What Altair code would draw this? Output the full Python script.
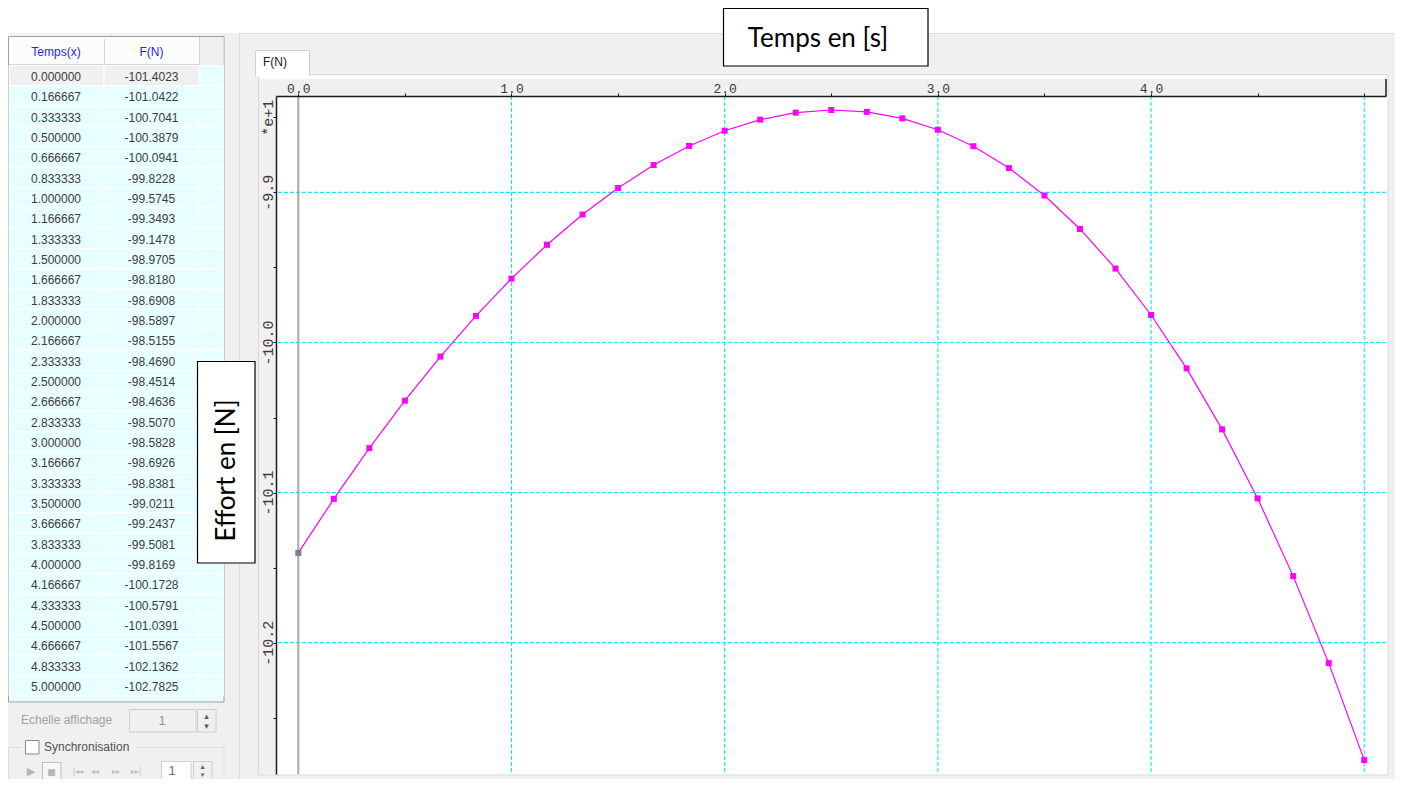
import altair as alt
import pandas as pd

# ---------------- data ----------------
temps = [0.000000, 0.166667, 0.333333, 0.500000, 0.666667, 0.833333, 1.000000,
         1.166667, 1.333333, 1.500000, 1.666667, 1.833333, 2.000000, 2.166667,
         2.333333, 2.500000, 2.666667, 2.833333, 3.000000, 3.166667, 3.333333,
         3.500000, 3.666667, 3.833333, 4.000000, 4.166667, 4.333333, 4.500000,
         4.666667, 4.833333, 5.000000]
force = [-101.4023, -101.0422, -100.7041, -100.3879, -100.0941, -99.8228, -99.5745,
         -99.3493, -99.1478, -98.9705, -98.8180, -98.6908, -98.5897, -98.5155,
         -98.4690, -98.4514, -98.4636, -98.5070, -98.5828, -98.6926, -98.8381,
         -99.0211, -99.2437, -99.5081, -99.8169, -100.1728, -100.5791, -101.0391,
         -101.5567, -102.1362, -102.7825]
selected_row = 0
x_tick_values = [0.0, 0.5, 1.0, 1.5, 2.0, 2.5, 3.0, 3.5, 4.0, 4.5, 5.0]
y_tick_values = [-98.5, -99.0, -99.5, -100.0, -100.5, -101.0, -101.5, -102.0, -102.5]
x_grid_values = [1.0, 2.0, 3.0, 4.0, 5.0]
y_grid_values = [-99.0, -100.0, -101.0, -102.0]
x_domain = [-0.1046, 5.102]
y_domain = [-102.875, -98.358]
table_headers = ["Temps(x)", "F(N)"]
x_title = "Temps en [s]"
y_title = "Effort en [N]"
tab_label = "F(N)"

# ---------------- layout ----------------
OX, OY = 276, 96          # page position of the plot origin
W, H = 1110, 678
GRAY = "#F0F0F0"
CYAN = "#10E6F4"
MAGENTA = "#FF00FF"


def px(x):
    return x - OX


def py(y):
    return y - OY


def rects(items, **kw):
    d = pd.DataFrame([{"x1": px(a), "y1": py(b), "x2": px(c), "y2": py(e), "fill": f, "stroke": s}
                      for (a, b, c, e, f, s) in items])
    return alt.Chart(d).mark_rect(**kw).encode(
        x=alt.X("x1:Q", scale=None, axis=None), x2="x2:Q",
        y=alt.Y("y1:Q", scale=None, axis=None), y2="y2:Q",
        fill=alt.Fill("fill:N", scale=None, legend=None),
        stroke=alt.Stroke("stroke:N", scale=None, legend=None))


def texts(items, align="left", font="Liberation Sans", angle=0, baseline="middle"):
    d = pd.DataFrame([{"x": px(a), "y": py(b), "text": t, "size": s, "color": c}
                      for (a, b, t, s, c) in items])
    kw = dict(align=align, baseline=baseline, font=font)
    if angle:
        kw["angle"] = angle
    return alt.Chart(d).mark_text(**kw).encode(
        x=alt.X("x:Q", scale=None, axis=None), y=alt.Y("y:Q", scale=None, axis=None),
        text="text:N", size=alt.Size("size:Q", scale=None, legend=None),
        color=alt.Color("color:N", scale=None, legend=None))


T = "transparent"

# background chrome
back = rects([
    (8, 33, 1395, 74, GRAY, T),
    (8, 74, 258, 779, GRAY, T),
    (1388, 74, 1395, 779, GRAY, T),
    (258, 775, 1388, 779, GRAY, T),
    (239.5, 33.5, 1399, 784, T, "#DCDCDC"),
    (258.5, 74.5, 1388, 775, T, "#D8D8D8"),
    (255.5, 50.5, 309.5, 76, "#FFFFFF", "#D0D0D0"),
    (256, 73, 309, 77, "#FFFFFF", T),
    (259, 79, 1386, 96, GRAY, T),
    (259, 96, 276, 774, GRAY, T),
    (1385, 79, 1387, 96, "#505050", T),
    # table frame and header
    (8.5, 36.5, 224, 702, "#E8FFFF", "#A0A0A0"),
    (9, 37, 199, 65, "#FCFCFC", T),
    (199, 37, 223.5, 65, GRAY, T),
    (104, 39, 105, 64, "#D5D5D5", T),
    (199, 37, 200, 65, "#D5D5D5", T),
    (9, 64, 199, 65, "#D5D5D5", T),
    # lower controls
    (8.5, 747.5, 224, 790, T, "#DCDCDC"),
    (22, 740, 137, 756, GRAY, T),
    (129.5, 709.5, 196, 732, GRAY, "#CFCFCF"),
    (197.5, 709.5, 216, 732, GRAY, "#CFCFCF"),
    (25.5, 740.5, 39, 754, "#FFFFFF", "#8A8A8A"),
    (42.5, 762.5, 61, 783, "#F7F7F7", "#BDBDBD"),
    (161.5, 761.5, 191, 783, "#FFFFFF", "#CFCFCF"),
    (193.5, 761.5, 212, 783, GRAY, "#CFCFCF"),
], strokeWidth=1)

back_text = texts([
    (263, 62, tab_label, 12, "#202020"),
    (21, 720, "Echelle affichage", 12, "#A0A0A0"),
    (44, 747, "Synchronisation", 12, "#505050"),
], align="left")
back_text_c = texts([
    (56, 52, table_headers[0], 12, "#1F1FFF"),
    (151.5, 52, table_headers[1], 12, "#1F1FFF"),
    (162, 721, "1", 13, "#909090"),
    (172, 771, "1", 13, "#707070"),
], align="center")
glyphs = texts([
    (31, 772, "\u25B6", 11, "#B5B5B5"),
    (51.5, 772, "\u25A0", 9, "#B5B5B5"),
    (78, 772, "|\u25C2\u25C2", 8, "#BDBDBD"),
    (95, 772, "\u25C2\u25C2", 8, "#BDBDBD"),
    (116, 772, "\u25B8\u25B8", 8, "#BDBDBD"),
    (136, 772, "\u25B8\u25B8|", 8, "#BDBDBD"),
    (206.5, 716, "\u25B4", 9, "#606060"),
    (206.5, 726, "\u25BE", 9, "#606060"),
    (202.5, 767, "\u25B4", 8, "#606060"),
    (202.5, 775, "\u25BE", 7, "#606060"),
], align="center", font="DejaVu Sans")

# ---------------- table ----------------
tdf = pd.DataFrame({
    "row": list(range(len(temps))),
    "t_txt": [f"{v:.6f}" for v in temps],
    "F_txt": [f"{v:.4f}" for v in force],
})
row_scale = alt.Scale(domain=[-0.5, len(temps) - 0.5], range=[py(65.5), py(695.8)])
tbase = alt.Chart(tdf).transform_calculate(r0="datum.row - 0.5", r1="datum.row + 0.5")
sel = f"datum.row == {selected_row}"


def cell(x1, x2, sel_fill):
    return tbase.mark_rect(stroke="#FFFFFF", strokeWidth=1).encode(
        x=alt.value(px(x1)), x2=alt.value(px(x2)),
        y=alt.Y("r0:Q", scale=row_scale, axis=None), y2="r1:Q",
        fill=alt.condition(sel, alt.value(sel_fill), alt.value("#E8FFFF")))


def col_text(xc, field):
    return tbase.mark_text(align="center", baseline="middle", font="Liberation Sans",
                           fontSize=12, dy=1.5, color="#3C3C3C").encode(
        x=alt.value(px(xc)), y=alt.Y("row:Q", scale=row_scale, axis=None), text=f"{field}:N")


table = alt.layer(
    cell(9, 104, GRAY), cell(104, 199, GRAY), cell(199, 223.5, "#E8FFFF"),
    col_text(56, "t_txt"), col_text(151.5, "F_txt"),
)

# ---------------- main plot ----------------
mdf = pd.DataFrame({"t": temps, "F": force, "row": list(range(len(temps)))})
xs = alt.Scale(domain=x_domain, nice=False, zero=False)
ys = alt.Scale(domain=y_domain, nice=False, zero=False)
xaxis = alt.Axis(
    orient="top", values=x_tick_values, title=None, grid=False,
    labelExpr="datum.value % 1 == 0 && datum.value < 5 ? format(datum.value, '.1f') : ''",
    domainColor="#1A1A1A", domainWidth=1.5, tickColor="#1A1A1A", tickSize=3, tickWidth=1,
    labelFont="Liberation Mono", labelFontSize=13, labelColor="#3A3A3A",
    labelPadding=1, labelBaseline="alphabetic", labelAlign="center",
    labelFlush=False, labelOverlap=False, zindex=1)
yaxis = alt.Axis(
    orient="left", values=y_tick_values, title=None, grid=False,
    labelExpr="datum.value == -98.5 ? '*e+1' : (datum.value % 1 == 0 ? '-' + format(abs(datum.value) / 10, '.1f') : '')",
    domainColor="#1A1A1A", domainWidth=1.5, tickColor="#1A1A1A", tickSize=3, tickWidth=1,
    labelFont="Liberation Mono", labelFontSize=15, labelColor="#3A3A3A",
    labelPadding=1, labelAngle=270, labelBaseline="alphabetic", labelAlign="center",
    labelFlush=False, labelOverlap=False, zindex=1)
X = alt.X("t:Q", scale=xs, axis=xaxis)
Y = alt.Y("F:Q", scale=ys, axis=yaxis)

vgrid = alt.Chart(pd.DataFrame({"t": x_grid_values})).mark_rule(
    color=CYAN, strokeDash=[4, 2], strokeWidth=1.1).encode(x=X)
hgrid = alt.Chart(pd.DataFrame({"F": y_grid_values})).mark_rule(
    color=CYAN, strokeDash=[4, 2], strokeWidth=1.1).encode(y=Y)
zero = alt.Chart(pd.DataFrame({"t": [0.0]})).mark_rule(
    color="#A8A8A8", strokeWidth=2).encode(x=X)
line = alt.Chart(mdf).mark_line(color=MAGENTA, strokeWidth=1.2).encode(x=X, y=Y)
pts = alt.Chart(mdf).mark_point(shape="square", filled=True, size=36, opacity=1).encode(
    x=X, y=Y, color=alt.condition(sel, alt.value("#808080"), alt.value(MAGENTA)))

main = alt.layer(vgrid, hgrid, zero, line, pts)

# ---------------- title boxes ----------------
boxes = rects([
    (723.5, 8.5, 928, 66, "#FFFFFF", "#000000"),
    (197.5, 361.5, 255, 563, "#FFFFFF", "#000000"),
], strokeWidth=1.2)
xtitle = texts([(818, 47, x_title, 26, "#000000")], align="center", font="Lato",
               baseline="alphabetic")
ytitle = texts([(235, 470.5, y_title, 26, "#000000")], align="center", font="Lato",
               angle=270, baseline="alphabetic")

chart = alt.layer(
    back, back_text, back_text_c, glyphs, table, main, boxes, xtitle, ytitle
).resolve_scale(
    x="independent", y="independent"
).properties(
    width=W, height=H,
    padding={"left": OX - 8, "top": OY - 8, "right": 1395 - (OX + W), "bottom": 779 - (OY + H)},
    autosize=alt.AutoSizeParams(type="none"),
    background="#FFFFFF",
).configure_view(stroke=None)

chart.save("out.html", embed_options={"renderer": "svg", "actions": False})
